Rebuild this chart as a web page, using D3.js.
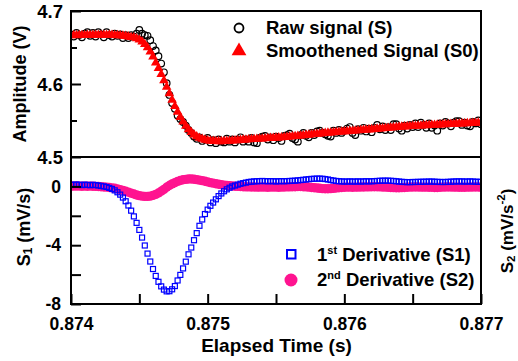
<!DOCTYPE html>
<html><head><meta charset="utf-8">
<script src="https://cdn.jsdelivr.net/npm/d3@7"></script>
<style>
html,body{margin:0;padding:0;background:#fff;}
svg{display:block;}
text{font-family:"Liberation Sans",Arial,Helvetica,sans-serif;font-weight:bold;fill:#000;}
</style></head><body>
<svg id="chart" width="518" height="361"></svg>
<script>
const tStart = 0.874, tStep = 0.00002;

const rawSignal = [
4.668,4.665,4.670,4.667,4.664,4.669,4.671,4.666,4.670,4.665,
4.671,4.668,4.664,4.671,4.667,4.665,4.669,4.666,4.668,4.663,
4.667,4.663,4.667,4.665,4.669,4.674,4.669,4.667,4.666,4.660,
4.652,4.646,4.638,4.628,4.616,4.601,4.585,4.574,4.566,4.557,
4.552,4.548,4.543,4.537,4.533,4.528,4.525,4.527,4.522,4.524,
4.526,4.520,4.523,4.519,4.524,4.521,4.520,4.525,4.521,4.524,
4.520,4.524,4.527,4.521,4.524,4.521,4.526,4.520,4.519,4.526,
4.528,4.529,4.524,4.527,4.523,4.528,4.526,4.522,4.529,4.530,
4.532,4.526,4.524,4.521,4.530,4.533,4.529,4.527,4.533,4.530,
4.535,4.536,4.533,4.531,4.529,4.528,4.536,4.533,4.537,4.533,
4.536,4.539,4.541,4.533,4.530,4.538,4.536,4.540,4.535,4.539,
4.534,4.540,4.544,4.538,4.542,4.537,4.541,4.537,4.545,4.545,
4.539,4.536,4.543,4.539,4.544,4.541,4.546,4.541,4.547,4.544,
4.540,4.546,4.540,4.543,4.536,4.546,4.543,4.548,4.546,4.542,
4.547,4.549,4.549,4.544,4.547,4.543,4.542,4.548,4.546,4.550,
4.545];

const smoothSignal = [
4.6665,4.6667,4.6666,4.6668,4.6667,4.6668,4.6669,4.6668,4.6670,4.6669,
4.6670,4.6671,4.6670,4.6670,4.6670,4.6669,4.6668,4.6666,4.6664,4.6661,
4.6656,4.6649,4.6641,4.6636,4.6624,4.6605,4.6580,4.6545,4.6500,4.6442,
4.6375,4.6292,4.6215,4.6133,4.6047,4.5958,4.5869,4.5781,4.5696,4.5618,
4.5546,4.5482,4.5426,4.5378,4.5338,4.5306,4.5280,4.5261,4.5246,4.5234,
4.5227,4.5221,4.5217,4.5215,4.5214,4.5214,4.5215,4.5217,4.5219,4.5222,
4.5225,4.5228,4.5231,4.5234,4.5237,4.5240,4.5242,4.5244,4.5247,4.5249,
4.5251,4.5253,4.5256,4.5258,4.5260,4.5263,4.5265,4.5268,4.5270,4.5273,
4.5277,4.5280,4.5284,4.5287,4.5291,4.5295,4.5299,4.5303,4.5307,4.5311,
4.5315,4.5319,4.5323,4.5327,4.5330,4.5333,4.5336,4.5339,4.5342,4.5345,
4.5348,4.5351,4.5354,4.5357,4.5360,4.5363,4.5366,4.5369,4.5372,4.5375,
4.5378,4.5381,4.5385,4.5388,4.5391,4.5394,4.5398,4.5401,4.5405,4.5408,
4.5411,4.5414,4.5416,4.5419,4.5421,4.5423,4.5425,4.5427,4.5429,4.5431,
4.5433,4.5435,4.5437,4.5439,4.5441,4.5443,4.5445,4.5447,4.5449,4.5450,
4.5452,4.5454,4.5455,4.5457,4.5459,4.5460,4.5462,4.5464,4.5465,4.5467,
4.5468];

const deriv1 = [
0.12,0.10,0.13,0.11,0.09,0.12,0.10,0.08,0.11,0.09,
0.06,0.03,0.00,-0.04,-0.10,-0.17,-0.27,-0.40,-0.56,-0.76,
-1.01,-1.30,-1.65,-2.04,-2.48,-2.96,-3.48,-4.02,-4.57,-5.11,
-5.62,-6.09,-6.49,-6.80,-7.02,-7.14,-7.13,-7.00,-6.78,-6.40,
-6.02,-5.58,-5.12,-4.62,-4.16,-3.66,-3.18,-2.68,-2.25,-1.88,
-1.58,-1.32,-1.10,-0.88,-0.66,-0.48,-0.33,-0.20,-0.09,0.00,
0.06,0.12,0.18,0.22,0.26,0.30,0.32,0.34,0.35,0.36,
0.37,0.36,0.35,0.36,0.35,0.34,0.35,0.36,0.35,0.36,
0.37,0.38,0.39,0.41,0.43,0.45,0.47,0.49,0.51,0.52,
0.53,0.53,0.52,0.50,0.47,0.43,0.40,0.37,0.35,0.34,
0.33,0.33,0.34,0.33,0.33,0.34,0.33,0.34,0.35,0.34,
0.35,0.36,0.37,0.38,0.39,0.39,0.39,0.38,0.37,0.35,
0.33,0.31,0.30,0.29,0.29,0.30,0.30,0.31,0.31,0.32,
0.32,0.33,0.33,0.32,0.31,0.30,0.30,0.30,0.31,0.32,
0.33,0.34,0.34,0.34,0.33,0.33,0.34,0.33,0.32,0.31,
0.31];

const deriv2 = [
0.03,0.02,0.03,0.02,0.01,0.02,0.01,0.02,0.01,0.00,
-0.01,-0.02,-0.04,-0.05,-0.07,-0.10,-0.13,-0.17,-0.22,-0.27,
-0.33,-0.39,-0.46,-0.52,-0.58,-0.63,-0.66,-0.68,-0.68,-0.66,
-0.61,-0.54,-0.45,-0.33,-0.20,-0.06,0.06,0.17,0.26,0.34,
0.40,0.45,0.48,0.50,0.50,0.49,0.46,0.43,0.39,0.35,
0.31,0.26,0.22,0.18,0.15,0.12,0.09,0.07,0.05,0.03,
0.01,0.00,-0.01,-0.02,-0.03,-0.03,-0.04,-0.04,-0.05,-0.05,
-0.04,-0.05,-0.06,-0.05,-0.04,-0.05,-0.06,-0.05,-0.04,-0.03,
-0.03,-0.02,-0.02,-0.01,-0.01,-0.02,-0.03,-0.05,-0.07,-0.09,
-0.11,-0.13,-0.15,-0.16,-0.16,-0.15,-0.13,-0.11,-0.09,-0.07,
-0.06,-0.05,-0.05,-0.06,-0.05,-0.05,-0.04,-0.04,-0.03,-0.03,
-0.02,-0.02,-0.02,-0.03,-0.04,-0.05,-0.06,-0.07,-0.08,-0.09,
-0.09,-0.08,-0.07,-0.06,-0.05,-0.04,-0.04,-0.04,-0.05,-0.05,
-0.05,-0.06,-0.06,-0.07,-0.07,-0.06,-0.05,-0.04,-0.04,-0.04,
-0.05,-0.05,-0.06,-0.06,-0.06,-0.05,-0.05,-0.04,-0.04,-0.04,
-0.05];

const xMajorTicks = [0.874, 0.875, 0.876, 0.877];
const xMinorTicks = [0.8745, 0.8755, 0.8765];
const topMajorTicks = [4.5, 4.6, 4.7];
const topMinorTicks = [4.55, 4.65];
const botMajorTicks = [-8, -4, 0];
const botMinorTicks = [-6, -2];

const legendTop = ["Raw signal (S)", "Smoothened Signal (S0)"];

const time = rawSignal.map((_, i) => tStart + i * tStep);

const svg = d3.select("#chart");
svg.append("rect").attr("width", 518).attr("height", 361).attr("fill", "#fff");

const L = 71, R = 481, T = 11, M = 157, B = 304;
const x = d3.scaleLinear().domain([0.874, 0.877]).range([L, R]);
const yTop = d3.scaleLinear().domain([4.5, 4.7]).range([M, T]);
const yBot = d3.scaleLinear().domain([-8, 2]).range([B, M]);

const defs = svg.append("defs");
defs.append("clipPath").attr("id", "clipTop").append("rect")
  .attr("x", L).attr("y", T).attr("width", R - L).attr("height", M - T);
defs.append("clipPath").attr("id", "clipBot").append("rect")
  .attr("x", L).attr("y", M).attr("width", R - L).attr("height", B - M);

// ---- top panel data ----
const gTop = svg.append("g").attr("clip-path", "url(#clipTop)");
gTop.selectAll("circle.raw").data(rawSignal).join("circle")
  .attr("class", "raw")
  .attr("cx", (d, i) => x(time[i])).attr("cy", d => yTop(d)).attr("r", 3.3)
  .attr("fill", "none").attr("stroke", "#000").attr("stroke-width", 1.2);
const tri = d3.symbol().type(d3.symbolTriangle).size(40);
gTop.selectAll("path.sm").data(smoothSignal).join("path")
  .attr("class", "sm")
  .attr("d", tri)
  .attr("transform", (d, i) => `translate(${x(time[i])},${yTop(d)})`)
  .attr("fill", "#ff0000");

// ---- bottom panel data ----
const gBot = svg.append("g").attr("clip-path", "url(#clipBot)");
gBot.selectAll("circle.d2").data(deriv2).join("circle")
  .attr("class", "d2")
  .attr("cx", (d, i) => x(time[i])).attr("cy", d => yBot(d)).attr("r", 4.7)
  .attr("fill", "#ff1490");
const sq = 5;
gBot.selectAll("rect.d1").data(deriv1).join("rect")
  .attr("class", "d1")
  .attr("x", (d, i) => x(time[i]) - sq / 2).attr("y", d => yBot(d) - sq / 2)
  .attr("width", sq).attr("height", sq)
  .attr("fill", "none").attr("stroke", "#0000ff").attr("stroke-width", 1.2);

// ---- axes ----
function styleAxis(g) {
  g.select(".domain").remove();
  g.selectAll("line").attr("stroke", "#000").attr("stroke-width", 2);
}
const xAxis = svg.append("g").attr("transform", `translate(0,${B})`)
  .call(d3.axisBottom(x).tickValues(xMajorTicks.concat(xMinorTicks)).tickSize(-10)
    .tickFormat(d => xMajorTicks.includes(d) ? d3.format(".3f")(d) : ""));
styleAxis(xAxis);
xAxis.selectAll("text").attr("y", 25.5).attr("dy", 0).attr("font-size", 17.5);

const yTopAxis = svg.append("g").attr("transform", `translate(${L},0)`)
  .call(d3.axisLeft(yTop).tickValues(topMajorTicks.concat(topMinorTicks)).tickSize(-10)
    .tickFormat(d => topMajorTicks.includes(d) ? d3.format(".1f")(d) : ""));
styleAxis(yTopAxis);
yTopAxis.selectAll(".tick").filter(d => topMinorTicks.includes(d)).select("line").attr("x2", 6);
yTopAxis.selectAll("text").attr("x", -8).attr("dy", "0.36em").attr("font-size", 18.5);

const yBotAxis = svg.append("g").attr("transform", `translate(${L},0)`)
  .call(d3.axisLeft(yBot).tickValues(botMajorTicks.concat(botMinorTicks)).tickSize(-10)
    .tickFormat(d => botMajorTicks.includes(d) ? String(d) : ""));
styleAxis(yBotAxis);
yBotAxis.selectAll("text").attr("x", -10).attr("dy", "0.33em").attr("font-size", 17.5);

// frames
[[T, M], [M, B]].forEach(([a, b]) => {
  svg.append("rect").attr("x", L).attr("y", a).attr("width", R - L).attr("height", b - a)
    .attr("fill", "none").attr("stroke", "#000").attr("stroke-width", 2);
});

// ---- axis titles ----
svg.append("text").attr("transform", "translate(20,84) rotate(-90)")
  .attr("text-anchor", "middle").attr("dominant-baseline", "central")
  .attr("font-size", 18).text("Amplitude (V)");

const s1 = svg.append("text").attr("transform", "translate(24,227) rotate(-90)")
  .attr("text-anchor", "middle").attr("dominant-baseline", "central").attr("font-size", 18);
s1.append("tspan").text("S");
s1.append("tspan").attr("font-size", 12).attr("dy", 4).text("1");
s1.append("tspan").attr("dy", -4).text(" (mV/s)");

const s2 = svg.append("text").attr("transform", "translate(507,231) rotate(-90)")
  .attr("text-anchor", "middle").attr("dominant-baseline", "central").attr("font-size", 17);
s2.append("tspan").text("S");
s2.append("tspan").attr("font-size", 11.5).attr("dy", 4).text("2");
s2.append("tspan").attr("dy", -4).text(" (mV/s");
s2.append("tspan").attr("font-size", 11.5).attr("dy", -6).text("-2");
s2.append("tspan").attr("dy", 6).text(")");

svg.append("text").attr("x", 276.5).attr("y", 351.5).attr("text-anchor", "middle")
  .attr("font-size", 19).text("Elapsed Time (s)");

// ---- legends ----
svg.append("circle").attr("cx", 239).attr("cy", 28).attr("r", 4.5)
  .attr("fill", "none").attr("stroke", "#000").attr("stroke-width", 1.8);
svg.append("path").attr("d", d3.symbol().type(d3.symbolTriangle).size(95))
  .attr("transform", "translate(239,51)").attr("fill", "#ff0000");
svg.append("text").attr("x", 266).attr("y", 34.3).attr("font-size", 18.5).text(legendTop[0]);
svg.append("text").attr("x", 266).attr("y", 57.3).attr("font-size", 18.5).text(legendTop[1]);

svg.append("rect").attr("x", 287).attr("y", 250).attr("width", 8.5).attr("height", 8.5)
  .attr("fill", "none").attr("stroke", "#0000ff").attr("stroke-width", 2);
svg.append("circle").attr("cx", 291).attr("cy", 280).attr("r", 6.5).attr("fill", "#ff1490");

const l1 = svg.append("text").attr("x", 317).attr("y", 261).attr("font-size", 18.5);
l1.append("tspan").text("1");
l1.append("tspan").attr("font-size", 11).attr("dy", -7).text("st");
l1.append("tspan").attr("dy", 7).text(" Derivative (S1)");
const l2 = svg.append("text").attr("x", 317).attr("y", 286).attr("font-size", 18.5);
l2.append("tspan").text("2");
l2.append("tspan").attr("font-size", 11).attr("dy", -7).text("nd");
l2.append("tspan").attr("dy", 7).text(" Derivative (S2)");
</script>
</body></html>
